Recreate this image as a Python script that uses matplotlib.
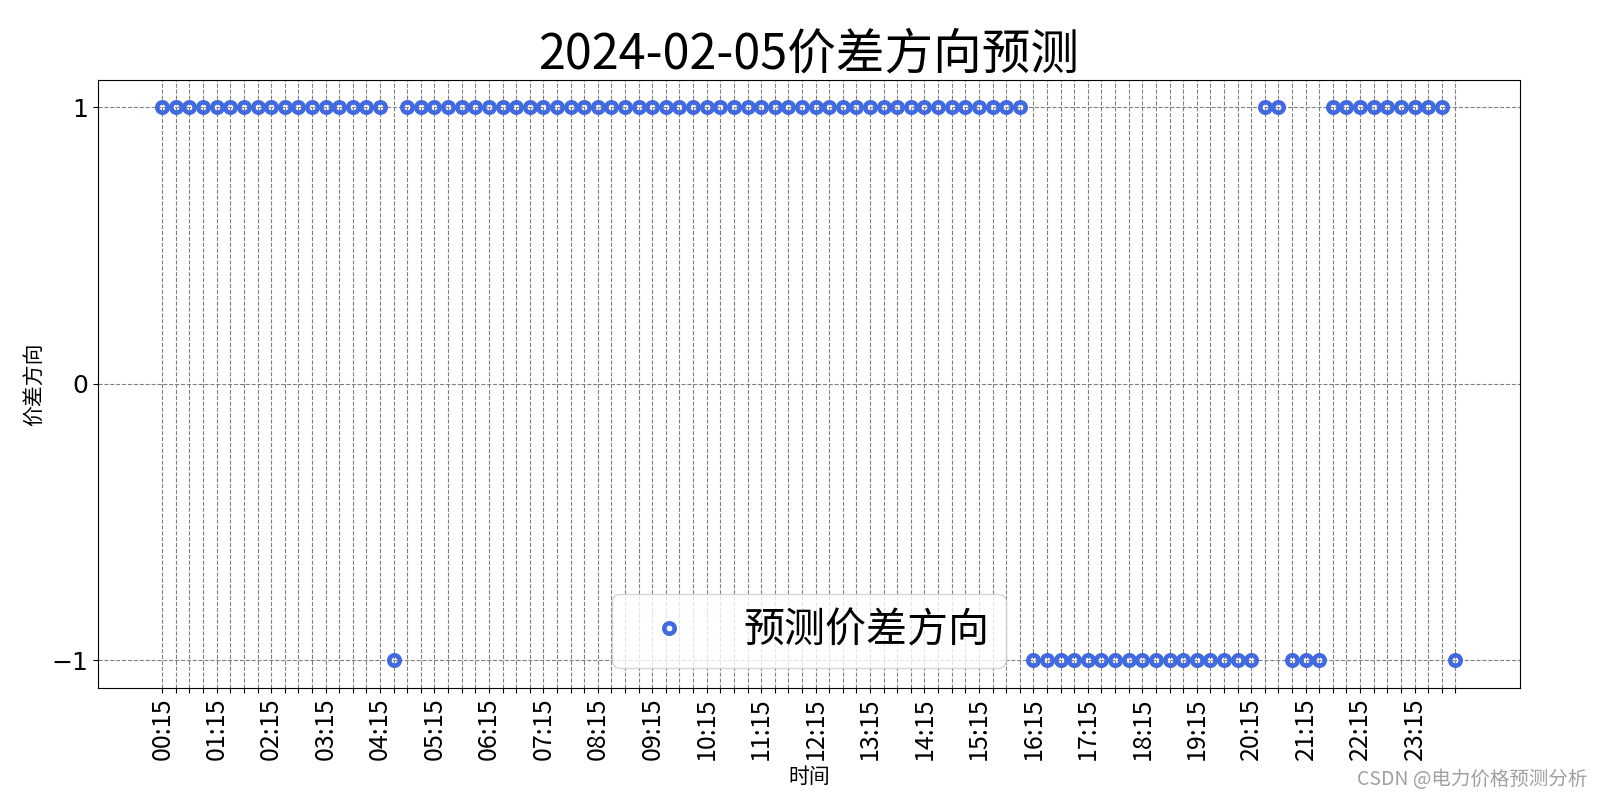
import matplotlib
matplotlib.use("Agg")
import matplotlib.pyplot as plt
import numpy as np

plt.rcParams['font.family'] = ['Noto Sans CJK SC', 'DejaVu Sans']
plt.rcParams['axes.unicode_minus'] = False

# 96 quarter-hours: 00:15 ... 24:00
times = []
for k in range(1, 97):
    m = k * 15
    h, mm = divmod(m, 60)
    times.append(f"{h:02d}:{mm:02d}")

# predicted direction per slot
direction = ([1] * 17 + [-1] + [1] * 46 + [-1] * 17 + [1] * 2 + [-1] * 3 + [1] * 9 + [-1])

title = "2024-02-05价差方向预测"
legend_label = "预测价差方向"

fig = plt.figure(figsize=(16, 8), dpi=100)
ax = fig.add_axes([0.061, 0.14, 0.889, 0.7605])

x = np.arange(len(times))
ax.plot(x, direction, linestyle='none', marker='o', markersize=7.5,
        markerfacecolor='none', markeredgecolor='#4169E1', markeredgewidth=3.3,
        label=legend_label)

ax.set_xticks(x)
ax.set_xticklabels([t if i % 4 == 0 else "" for i, t in enumerate(times)],
                   rotation=90, fontsize=18)
ax.set_yticks([-1, 0, 1])
ax.set_yticklabels(["\u22121", "0", "1"], fontsize=18, family=['DejaVu Sans'])
ax.grid(True, linestyle='--', color='gray', linewidth=0.8)

ax.set_title(title, fontsize=35)
ax.set_xlabel("时间", fontsize=15)
ax.set_ylabel("价差方向", fontsize=15)
ax.legend(loc='lower center', fontsize=29.5)

fig.text(0.992, 0.012, "CSDN @电力价格预测分析", ha='right', va='bottom',
         fontsize=14, color='#a0a0a0')

fig.savefig("out.png", dpi=100)
